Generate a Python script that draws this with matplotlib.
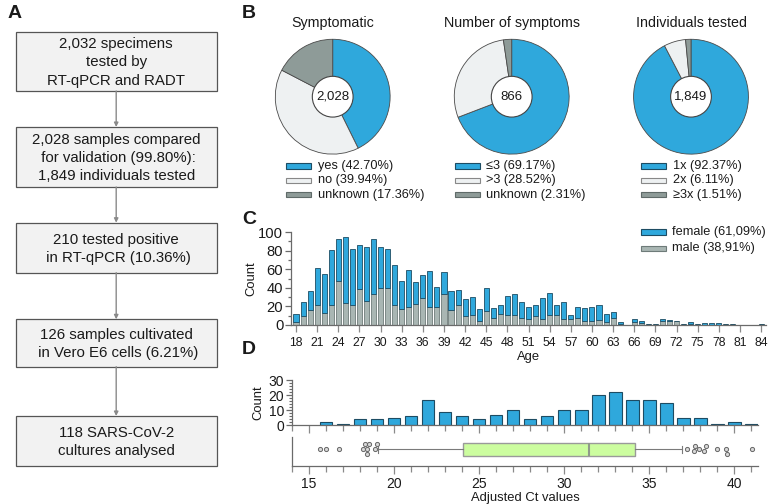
import matplotlib
matplotlib.use("Agg")
import matplotlib.pyplot as plt
from matplotlib.patches import Rectangle, Circle
from matplotlib.ticker import MultipleLocator

plt.rcParams['font.family'] = ['Liberation Sans', 'DejaVu Sans']

# ---------------- data ----------------
flow_steps = [
    "2,032 specimens\ntested by\nRT-qPCR and RADT",
    "2,028 samples compared\n for validation (99.80%):\n1,849 individuals tested",
    "210 tested positive\n in RT-qPCR (10.36%)",
    "126 samples cultivated\n in Vero E6 cells (6.21%)",
    "118 SARS-CoV-2\ncultures analysed",
]

pie_titles = ["Symptomatic", "Number of symptoms", "Individuals tested"]
pie_totals = ["2,028", "866", "1,849"]
pie_values = [[42.70, 39.94, 17.36], [69.17, 28.52, 2.31], [92.37, 6.11, 1.51]]
pie_labels = [["yes", "no", "unknown"], ["\u22643", ">3", "unknown"], ["1x", "2x", "\u22653x"]]

ages = list(range(18, 85))
age_total = [12, 25, 37, 61, 55, 81, 92, 95, 82, 86,
             84, 93, 84, 82, 65, 47, 59, 46, 54, 58,
             41, 57, 37, 38, 28, 30, 17, 40, 18, 21,
             31, 33, 25, 19, 22, 29, 34, 22, 25, 11,
             19, 18, 19, 22, 12, 14, 3, 0, 6, 4,
             1, 1, 6, 5, 4, 1, 3, 1, 2, 2,
             2, 1, 1, 0, 0, 0, 1]
age_male = [3, 10, 16, 21, 13, 21, 47, 24, 22, 39,
            26, 33, 40, 40, 22, 17, 19, 23, 29, 19,
            19, 33, 16, 22, 10, 11, 4, 15, 7, 12,
            11, 11, 8, 6, 10, 6, 11, 11, 6, 6,
            7, 4, 4, 5, 3, 8, 1, 0, 3, 2,
            1, 1, 4, 4, 4, 1, 1, 1, 0, 0,
            0, 1, 1, 0, 0, 0, 1]
age_female = [t - m for t, m in zip(age_total, age_male)]
sex_labels = ["female (61,09%)", "male (38,91%)"]
age_ticks = list(range(18, 85, 3))

ct_bins = list(range(16, 42))
ct_counts = [2, 1, 4, 4, 5, 6, 17, 9, 6, 4, 7, 10, 4, 6, 10, 10, 20, 22, 17, 17, 15, 5, 5, 1, 2, 1]
ct_box = dict(q1=24.04, med=31.47, q3=34.18, whislo=19.08, whishi=36.96)
ct_outliers = [15.63, 15.98, 16.76, 18.20, 18.29, 18.39, 18.43, 18.55, 18.90, 19.02,
               37.22, 37.66, 37.70, 37.96, 38.24, 38.33, 38.98, 39.49, 39.59, 41.02]
outlier_stack = [0, 0, 0, 0, 5.3, -5.3, 0, 5.3, 0, 5.3,
                 0, -2.4, 3, 0, -2.4, 3, 0, 0, -5.3, 0]

# ---------------- style ----------------
BLUE = '#2fa8dc'
BLUE_EDGE = '#1d4c63'
GREY = '#a9b6b3'
GREY_EDGE = '#6e7b79'
LIGHT = '#eef1f2'
DARK = '#8e9b98'
GREEN = '#ccfd9f'
AXC = '#6a6a6a'
TXT = '#1a1a1a'

W, H = 768, 504
fig = plt.figure(figsize=(W / 100, H / 100), dpi=100)


def ax_px(left, top, right, bottom):
    return fig.add_axes([left / W, 1 - bottom / H, (right - left) / W, (bottom - top) / H])


def fx(x):
    return x / W


def fy(y):
    return 1 - y / H


# panel letters
for lab, x, y in [("A", 8, 13), ("B", 242, 13), ("C", 242, 220), ("D", 242, 349)]:
    fig.text(fx(x), fy(y), lab, fontsize=14, fontweight='bold', va='center', ha='left', color=TXT)

# ---------------- Panel A ----------------
axA = ax_px(0, 0, 240, H)
axA.set_xlim(0, 240)
axA.set_ylim(H, 0)
axA.axis('off')
boxes = [(31.7, 91), (127, 187), (222.7, 272.7), (319.3, 366.7), (416, 466)]
bx0, bx1 = 15.7, 216.7
cx = (bx0 + bx1) / 2
for (t, b), txt in zip(boxes, flow_steps):
    axA.add_patch(Rectangle((bx0, t), bx1 - bx0, b - t, facecolor='#f2f2f2', edgecolor='#555555', lw=0.9))
    axA.text(cx, (t + b) / 2 + 1, txt, ha='center', va='center', fontsize=10.8,
             linespacing=1.38, color=TXT, multialignment='center')
for i in range(len(boxes) - 1):
    axA.annotate("", xy=(cx, boxes[i + 1][0]), xytext=(cx, boxes[i][1]),
                 arrowprops=dict(arrowstyle='-|>', color='#8a8a8a', lw=1.0, mutation_scale=6,
                                 shrinkA=0, shrinkB=0))

# ---------------- Panel B ----------------
pie_cx = [332.7, 511.7, 691.0]
pie_cy = 96.7
R = 58
leg_patch_x = [285.7, 454.5, 640.7]
pie_colors = [BLUE, LIGHT, DARK]
pie_edges = [BLUE_EDGE, '#888888', '#5f6a68']
for k in range(3):
    ax = ax_px(pie_cx[k] - R, pie_cy - R, pie_cx[k] + R, pie_cy + R)
    ax.pie(pie_values[k], colors=pie_colors, startangle=90, counterclock=False, radius=1,
           wedgeprops=dict(edgecolor='#4a4a4a', linewidth=0.6))
    ax.add_patch(Circle((0, 0), 0.355, facecolor='white', edgecolor='#444444', lw=0.8, zorder=5))
    ax.text(0, 0, pie_totals[k], ha='center', va='center', fontsize=9.5, color=TXT, zorder=6)
    ax.set_xlim(-1.01, 1.01)
    ax.set_ylim(-1.01, 1.01)
    ax.set_aspect('equal')
    ax.axis('off')
    fig.text(fx(pie_cx[k]), fy(23), pie_titles[k], ha='center', va='center', fontsize=10.3, color=TXT)
    for i, (lab, val) in enumerate(zip(pie_labels[k], pie_values[k])):
        yy = 166 + i * 14.3
        fig.patches.append(Rectangle((fx(leg_patch_x[k]), fy(yy + 2.8)), 25.5 / W, 5.6 / H,
                                     transform=fig.transFigure, facecolor=pie_colors[i],
                                     edgecolor=pie_edges[i], lw=0.8))
        fig.text(fx(leg_patch_x[k] + 32), fy(yy), f"{lab} ({val:.2f}%)", ha='left', va='center',
                 fontsize=9.2, color=TXT)

# ---------------- Panel C ----------------
axC = ax_px(291, 232, 766, 325)
axC.bar(ages, age_male, width=0.72, color=GREY, edgecolor=GREY_EDGE, lw=0.6)
axC.bar(ages, age_female, bottom=age_male, width=0.72, color=BLUE, edgecolor=BLUE_EDGE, lw=0.6)
axC.set_xlim(17.29, 84.7)
axC.set_ylim(0, 100)
axC.set_xticks(age_ticks)
axC.yaxis.set_major_locator(MultipleLocator(20))
axC.yaxis.set_minor_locator(MultipleLocator(10))
for s in ['top', 'right']:
    axC.spines[s].set_visible(False)
for s in ['left', 'bottom']:
    axC.spines[s].set_color(AXC)
    axC.spines[s].set_linewidth(0.9)
axC.tick_params(axis='x', length=5, width=0.9, color='#8a8a8a', labelsize=8.8, pad=4, labelcolor=TXT)
axC.tick_params(axis='y', which='major', length=4, width=0.9, color=AXC, labelsize=10.6, pad=1.5, labelcolor=TXT)
axC.tick_params(axis='y', which='minor', length=2.5, width=0.9, color=AXC)
axC.set_xlabel("Age", fontsize=9.4, labelpad=1, color=TXT)
axC.set_ylabel("Count", fontsize=9.4, labelpad=1, color=TXT)
for i, (lab, col, ec) in enumerate(zip(sex_labels, [BLUE, GREY], [BLUE_EDGE, GREY_EDGE])):
    yy = 232 + i * 16.5
    fig.patches.append(Rectangle((fx(640.5), fy(yy + 2.8)), 25.5 / W, 5.6 / H,
                                 transform=fig.transFigure, facecolor=col, edgecolor=ec, lw=0.8))
    fig.text(fx(672), fy(yy), lab, ha='left', va='center', fontsize=9.2, color=TXT)

# ---------------- Panel D ----------------
axD = ax_px(292, 380.3, 758, 425.3)
axD.bar(ct_bins, ct_counts, width=0.75, color=BLUE, edgecolor=BLUE_EDGE, lw=0.8)
axD.set_xlim(14, 41.4)
axD.set_ylim(0, 30)
axD.yaxis.set_major_locator(MultipleLocator(10))
axD.yaxis.set_minor_locator(MultipleLocator(2))
axD.xaxis.set_major_locator(MultipleLocator(5))
axD.xaxis.set_minor_locator(MultipleLocator(1))
axD.tick_params(axis='x', which='both', labelbottom=False, color='#8a8a8a', width=0.9)
axD.tick_params(axis='x', which='major', length=6)
axD.tick_params(axis='x', which='minor', length=4)
axD.tick_params(axis='y', which='major', length=4, width=0.9, color=AXC, labelsize=10, pad=1.5, labelcolor=TXT)
axD.tick_params(axis='y', which='minor', length=2.5, width=0.8, color=AXC)
for s in ['top', 'right']:
    axD.spines[s].set_visible(False)
for s in ['left', 'bottom']:
    axD.spines[s].set_color(AXC)
    axD.spines[s].set_linewidth(0.9)
axD.set_ylabel("Count", fontsize=9.4, labelpad=3, color=TXT)

axE = ax_px(292, 437, 758, 466)
stats = [dict(ct_box, fliers=[])]
axE.bxp(stats, positions=[0], widths=13, vert=False, showfliers=False, patch_artist=True,
        capwidths=7,
        boxprops=dict(facecolor=GREEN, edgecolor='#9a9a9a', lw=1.0),
        medianprops=dict(color='#8f9a8a', lw=1.5),
        whiskerprops=dict(color='#7a7a7a', lw=0.8),
        capprops=dict(color='#7a7a7a', lw=0.8))
axE.scatter(ct_outliers, outlier_stack, s=9, facecolor='#d8d8d8', edgecolor='#666666', lw=0.7, zorder=4)
axE.set_xlim(14, 41.4)
axE.set_ylim(-17, 12)
axE.xaxis.set_major_locator(MultipleLocator(5))
axE.xaxis.set_minor_locator(MultipleLocator(1))
axE.set_yticks([])
axE.tick_params(axis='x', which='major', length=6, width=0.9, color='#8a8a8a', labelsize=10, pad=2, labelcolor=TXT)
axE.tick_params(axis='x', which='minor', length=4, width=0.9, color='#8a8a8a')
for s in ['top', 'right']:
    axE.spines[s].set_visible(False)
for s in ['left', 'bottom']:
    axE.spines[s].set_color(AXC)
    axE.spines[s].set_linewidth(0.9)
axE.set_xlabel("Adjusted Ct values", fontsize=9.4, labelpad=1, color=TXT)

fig.savefig("out.png", dpi=100)
